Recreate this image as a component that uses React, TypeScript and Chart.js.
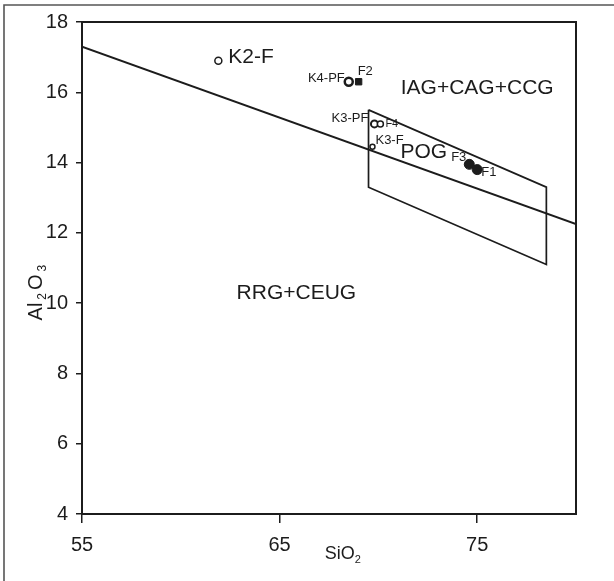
import React, { useEffect, useRef } from "react";
import { Chart, registerables } from "chart.js";

Chart.register(...registerables);

// ---- data ----
const xTicks = [55, 65, 75];
const yTicks = [4, 6, 8, 10, 12, 14, 16, 18];
const xMin = 55;
const xMax = 80;
const yMin = 4;
const yMax = 18;

// discriminant line
const boundarySiO2 = [55, 80];
const boundaryAl2O3 = [17.3, 12.25];

// POG field (parallelogram)
const pogSiO2 = [69.5, 78.5, 78.5, 69.5, 69.5];
const pogAl2O3 = [15.5, 13.3, 11.1, 13.3, 15.5];

// samples
const sampleNames = ["K2-F", "K4-PF", "F2", "K3-PF", "F4", "K3-F", "F3", "F1"];
const sampleSiO2 = [61.9, 68.5, 69.0, 69.8, 70.1, 69.7, 74.6, 75.0];
const sampleAl2O3 = [16.9, 16.3, 16.3, 15.1, 15.1, 14.45, 13.95, 13.8];

// field names
const regionNames = ["IAG+CAG+CCG", "POG", "RRG+CEUG"];
const regionSiO2 = [75.0, 72.3, 65.85];
const regionAl2O3 = [16.12, 14.3, 10.29];

// ---- styles ----
const FONT = "'Liberation Sans', Arial, Helvetica, sans-serif";
const INK = "#1c1c1c";

const markerStyle: Record<string, { style: string; r: number; filled: boolean; bw: number }> = {
  "K2-F": { style: "circle", r: 3.5, filled: false, bw: 1.5 },
  "K4-PF": { style: "circle", r: 4, filled: false, bw: 2.5 },
  F2: { style: "rect", r: 4.5, filled: true, bw: 1 },
  "K3-PF": { style: "circle", r: 3.5, filled: false, bw: 2 },
  F4: { style: "circle", r: 3, filled: false, bw: 1.5 },
  "K3-F": { style: "circle", r: 2.5, filled: false, bw: 1.5 },
  F3: { style: "circle", r: 5, filled: true, bw: 1 },
  F1: { style: "circle", r: 5, filled: true, bw: 1 },
};

const labelPlace: Record<string, { dx: number; dy: number; align: CanvasTextAlign; size: number }> = {
  "K2-F": { dx: 10, dy: -3, align: "left", size: 21 },
  "K4-PF": { dx: -4, dy: -3, align: "right", size: 13 },
  F2: { dx: -1, dy: -10, align: "left", size: 13 },
  "K3-PF": { dx: -6, dy: -5, align: "right", size: 13 },
  F4: { dx: 5, dy: 0, align: "left", size: 11 },
  "K3-F": { dx: 3, dy: -6, align: "left", size: 13 },
  F3: { dx: -3, dy: -7, align: "right", size: 13 },
  F1: { dx: 4, dy: 3, align: "left", size: 13 },
};

function drawSubText(
  ctx: CanvasRenderingContext2D,
  parts: { t: string; sub: boolean }[],
  cx: number,
  cy: number,
  size: number,
  gap: number
) {
  const subSize = Math.round(size * 0.62);
  let total = 0;
  const widths = parts.map((p) => {
    ctx.font = `${p.sub ? subSize : size}px ${FONT}`;
    const w = ctx.measureText(p.t).width;
    total += w;
    return w;
  });
  total += gap * (parts.length - 1);
  let x = cx - total / 2;
  ctx.textAlign = "left";
  ctx.textBaseline = "alphabetic";
  parts.forEach((p, i) => {
    ctx.font = `${p.sub ? subSize : size}px ${FONT}`;
    ctx.fillText(p.t, x, cy + size * 0.35 + (p.sub ? size * 0.22 : 0));
    x += widths[i] + gap;
  });
}

const decorPlugin = {
  id: "decor",
  beforeDraw(chart: any) {
    const ctx: CanvasRenderingContext2D = chart.ctx;
    ctx.save();
    ctx.fillStyle = "#ffffff";
    ctx.fillRect(0, 0, chart.width, chart.height);
    // outer frame (top and left)
    ctx.strokeStyle = "#555";
    ctx.lineWidth = 1.6;
    ctx.beginPath();
    ctx.moveTo(4, chart.height);
    ctx.lineTo(4, 5);
    ctx.lineTo(chart.width, 5);
    ctx.stroke();
    ctx.restore();
  },
  afterDraw(chart: any) {
    const ctx: CanvasRenderingContext2D = chart.ctx;
    const xs = chart.scales.x;
    const ys = chart.scales.y;
    const a = chart.chartArea;
    ctx.save();
    // plot box
    ctx.strokeStyle = INK;
    ctx.lineWidth = 2;
    ctx.strokeRect(a.left, a.top, a.right - a.left, a.bottom - a.top);

    ctx.fillStyle = INK;
    // field names
    ctx.textAlign = "center";
    ctx.textBaseline = "middle";
    regionNames.forEach((n, i) => {
      ctx.font = `21px ${FONT}`;
      ctx.fillText(n, xs.getPixelForValue(regionSiO2[i]), ys.getPixelForValue(regionAl2O3[i]));
    });
    // sample names
    sampleNames.forEach((n, i) => {
      const p = labelPlace[n];
      ctx.font = `${p.size}px ${FONT}`;
      ctx.textAlign = p.align;
      ctx.textBaseline = "middle";
      ctx.fillText(
        n,
        xs.getPixelForValue(sampleSiO2[i]) + p.dx,
        ys.getPixelForValue(sampleAl2O3[i]) + p.dy
      );
    });
    // axis titles
    drawSubText(
      ctx,
      [
        { t: "SiO", sub: false },
        { t: "2", sub: true },
      ],
      xs.getPixelForValue(68.2),
      a.bottom + 39,
      18,
      0
    );
    ctx.translate(35, ys.getPixelForValue(10.3));
    ctx.rotate(-Math.PI / 2);
    drawSubText(
      ctx,
      [
        { t: "Al", sub: false },
        { t: "2", sub: true },
        { t: "O", sub: false },
        { t: "3", sub: true },
      ],
      0,
      0,
      20,
      3
    );
    ctx.restore();
  },
};

export default function App() {
  const ref = useRef<HTMLCanvasElement | null>(null);

  useEffect(() => {
    if (!ref.current) return;
    const samplePoints = sampleSiO2.map((x, i) => ({ x, y: sampleAl2O3[i] }));
    const chart = new Chart(ref.current, {
      type: "scatter",
      data: {
        datasets: [
          {
            label: "boundary",
            data: boundarySiO2.map((x, i) => ({ x, y: boundaryAl2O3[i] })),
            showLine: true,
            borderColor: INK,
            borderWidth: 2,
            pointRadius: 0,
          },
          {
            label: "POG",
            data: pogSiO2.map((x, i) => ({ x, y: pogAl2O3[i] })),
            showLine: true,
            borderColor: INK,
            borderWidth: 1.7,
            pointRadius: 0,
          },
          {
            label: "samples",
            data: samplePoints,
            pointStyle: sampleNames.map((n) => markerStyle[n].style) as any,
            pointRadius: sampleNames.map((n) => markerStyle[n].r),
            pointBorderWidth: sampleNames.map((n) => markerStyle[n].bw),
            pointBackgroundColor: sampleNames.map((n) => (markerStyle[n].filled ? INK : "#ffffff")),
            pointBorderColor: INK,
          },
        ],
      },
      options: {
        responsive: false,
        animation: false,
        devicePixelRatio: 1,
        layout: { padding: { top: 22, right: 38, left: 0, bottom: 0 } },
        plugins: { legend: { display: false }, tooltip: { enabled: false } },
        events: [],
        scales: {
          x: {
            type: "linear",
            min: xMin,
            max: xMax,
            afterBuildTicks: (s: any) => {
              s.ticks = xTicks.map((v) => ({ value: v }));
            },
            afterFit: (s: any) => {
              s.height = 67;
            },
            grid: { drawOnChartArea: false, drawTicks: true, tickLength: 9, color: INK, lineWidth: 1.5 },
            border: { display: false },
            ticks: {
              font: { family: FONT, size: 20 },
              color: INK,
              padding: 10,
              maxRotation: 0,
              autoSkip: false,
            },
          },
          y: {
            type: "linear",
            min: yMin,
            max: yMax,
            afterBuildTicks: (s: any) => {
              s.ticks = yTicks.map((v) => ({ value: v }));
            },
            afterFit: (s: any) => {
              s.width = 82;
            },
            grid: { drawOnChartArea: false, drawTicks: true, tickLength: 6, color: INK, lineWidth: 1.5 },
            border: { display: false },
            ticks: {
              font: { family: FONT, size: 20 },
              color: INK,
              padding: 8,
              autoSkip: false,
            },
          },
        },
      },
      plugins: [decorPlugin],
    });
    return () => chart.destroy();
  }, []);

  return (
    <div style={{ position: "absolute", left: 0, top: 0, width: 614, height: 581, background: "#fff" }}>
      <canvas ref={ref} width={614} height={581} style={{ display: "block", width: 614, height: 581 }} />
    </div>
  );
}
